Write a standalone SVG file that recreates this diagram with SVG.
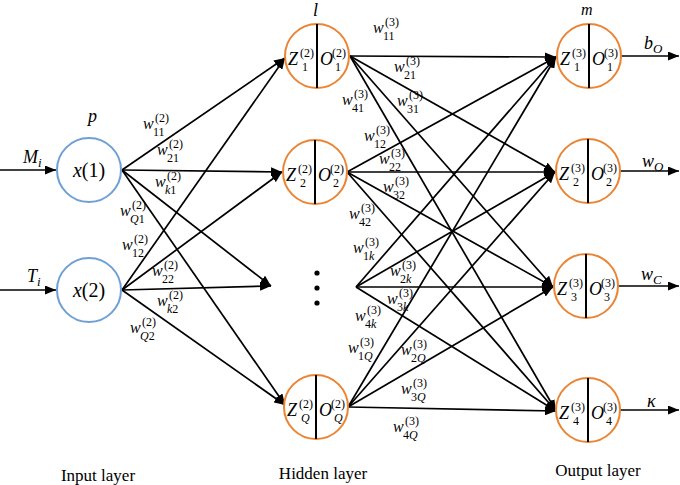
<svg xmlns="http://www.w3.org/2000/svg" width="680" height="485" viewBox="0 0 680 485">
<defs>
<marker id="ah" markerUnits="userSpaceOnUse" markerWidth="11" markerHeight="9" refX="11" refY="4.5" orient="auto">
<path d="M0,0 L11,4.5 L0,9 z" fill="#000"/>
</marker>
<style>
.in{fill:#fff;stroke:#6E9FD6;stroke-width:2}
.hid{fill:#fff;stroke:#EB8433;stroke-width:2}
.dv{stroke:#000;stroke-width:2}
.e{stroke:#000;stroke-width:1.7;fill:none;marker-end:url(#ah)}
.m{font-family:"Liberation Serif",serif;font-style:italic;fill:#000}
.w{font-size:16px}
.big{font-size:18px}
.s{font-size:12px;font-style:normal}
.i{font-style:italic}
.lab{font-family:"Liberation Serif",serif;font-size:17px;fill:#000;text-anchor:middle}
.dot{fill:#000}
</style>
</defs>

<g id="connectors">
<line class="e" x1="0" y1="170" x2="56" y2="170"/>
<line class="e" x1="0" y1="290" x2="56" y2="290"/>
<line class="e" x1="122" y1="170" x2="285" y2="58"/>
<line class="e" x1="122" y1="170" x2="282" y2="172"/>
<line class="e" x1="122" y1="170" x2="271" y2="286"/>
<line class="e" x1="122" y1="170" x2="285" y2="405"/>
<line class="e" x1="122" y1="290" x2="285" y2="58"/>
<line class="e" x1="122" y1="290" x2="282" y2="172"/>
<line class="e" x1="122" y1="290" x2="271" y2="286"/>
<line class="e" x1="122" y1="290" x2="285" y2="405"/>
<line class="e" x1="350" y1="56" x2="556" y2="57"/>
<line class="e" x1="350" y1="56" x2="555" y2="172"/>
<line class="e" x1="350" y1="56" x2="553" y2="287"/>
<line class="e" x1="350" y1="56" x2="556" y2="411"/>
<line class="e" x1="347" y1="172" x2="556" y2="57"/>
<line class="e" x1="347" y1="172" x2="555" y2="172"/>
<line class="e" x1="347" y1="172" x2="553" y2="287"/>
<line class="e" x1="347" y1="172" x2="556" y2="411"/>
<line class="e" x1="356" y1="287" x2="556" y2="57"/>
<line class="e" x1="356" y1="287" x2="555" y2="172"/>
<line class="e" x1="356" y1="287" x2="553" y2="287"/>
<line class="e" x1="356" y1="287" x2="556" y2="411"/>
<line class="e" x1="348" y1="407" x2="556" y2="57"/>
<line class="e" x1="348" y1="407" x2="555" y2="172"/>
<line class="e" x1="348" y1="407" x2="553" y2="287"/>
<line class="e" x1="348" y1="407" x2="556" y2="411"/>
<line class="e" x1="621" y1="56" x2="679" y2="56"/>
<line class="e" x1="620" y1="171" x2="679" y2="171"/>
<line class="e" x1="618" y1="286" x2="679" y2="286"/>
<line class="e" x1="620" y1="410" x2="679" y2="410"/>
</g>

<g id="input-labels">
<text class="m big" x="23" y="163">M<tspan class="i" font-size="13" y="167">i</tspan></text>
<text class="m big" x="27" y="282">T<tspan class="i" font-size="13" y="286">i</tspan></text>
<text class="m big" x="88" y="122">p</text>
<text class="m big" x="313" y="16">l</text>
<text class="m" font-size="16" x="581" y="15">m</text>
</g>

<g id="x1">
<circle class="in" cx="89" cy="170" r="32"/>
<text class="m" font-size="20" x="89" y="177" text-anchor="middle">x<tspan font-style="normal">(1)</tspan></text>
</g>
<g id="x2">
<circle class="in" cx="89" cy="290" r="32"/>
<text class="m" font-size="20" x="89" y="297" text-anchor="middle">x<tspan font-style="normal">(2)</tspan></text>
</g>

<g id="h1">
<circle class="hid" cx="317" cy="56" r="32"/>
<line class="dv" x1="317" y1="24" x2="317" y2="88"/>
<text class="m big" x="288" y="65">Z<tspan class="s" x="300" y="57">(2)</tspan><tspan class="s" x="302" y="71">1</tspan></text>
<text class="m big" x="320" y="65">O<tspan class="s" x="332" y="57">(2)</tspan><tspan class="s" x="335" y="71">1</tspan></text>
</g>
<g id="h2">
<circle class="hid" cx="315" cy="172" r="32"/>
<line class="dv" x1="315" y1="140" x2="315" y2="204"/>
<text class="m big" x="286" y="181">Z<tspan class="s" x="298" y="173">(2)</tspan><tspan class="s" x="300" y="187">2</tspan></text>
<text class="m big" x="318" y="181">O<tspan class="s" x="330" y="173">(2)</tspan><tspan class="s" x="333" y="187">2</tspan></text>
</g>
<g id="hk">
<circle class="dot" cx="317" cy="273" r="2.6"/>
<circle class="dot" cx="317" cy="288" r="2.6"/>
<circle class="dot" cx="317" cy="303" r="2.6"/>
</g>
<g id="hQ">
<circle class="hid" cx="316" cy="407" r="32"/>
<line class="dv" x1="316" y1="375" x2="316" y2="439"/>
<text class="m big" x="287" y="416">Z<tspan class="s" x="299" y="408">(2)</tspan><tspan class="s i" x="301" y="422">Q</tspan></text>
<text class="m big" x="319" y="416">O<tspan class="s" x="331" y="408">(2)</tspan><tspan class="s i" x="334" y="422">Q</tspan></text>
</g>

<g id="o1">
<circle class="hid" cx="589" cy="56" r="32"/>
<line class="dv" x1="589" y1="24" x2="589" y2="88"/>
<text class="m big" x="560" y="65">Z<tspan class="s" x="572" y="57">(3)</tspan><tspan class="s" x="574" y="71">1</tspan></text>
<text class="m big" x="592" y="65">O<tspan class="s" x="604" y="57">(3)</tspan><tspan class="s" x="607" y="71">1</tspan></text>
<text class="m big" x="644" y="49">b<tspan class="i" font-size="13" y="53">O</tspan></text>
</g>
<g id="o2">
<circle class="hid" cx="588" cy="171" r="32"/>
<line class="dv" x1="588" y1="139" x2="588" y2="203"/>
<text class="m big" x="559" y="180">Z<tspan class="s" x="571" y="172">(3)</tspan><tspan class="s" x="573" y="186">2</tspan></text>
<text class="m big" x="591" y="180">O<tspan class="s" x="603" y="172">(3)</tspan><tspan class="s" x="606" y="186">2</tspan></text>
<text class="m big" x="642" y="167">w<tspan class="i" font-size="13" y="171">O</tspan></text>
</g>
<g id="o3">
<circle class="hid" cx="586" cy="286" r="32"/>
<line class="dv" x1="586" y1="254" x2="586" y2="318"/>
<text class="m big" x="557" y="295">Z<tspan class="s" x="569" y="287">(3)</tspan><tspan class="s" x="571" y="301">3</tspan></text>
<text class="m big" x="589" y="295">O<tspan class="s" x="601" y="287">(3)</tspan><tspan class="s" x="604" y="301">3</tspan></text>
<text class="m big" x="641" y="280">w<tspan class="i" font-size="13" y="284">C</tspan></text>
</g>
<g id="o4">
<circle class="hid" cx="588" cy="410" r="32"/>
<line class="dv" x1="588" y1="378" x2="588" y2="442"/>
<text class="m big" x="559" y="419">Z<tspan class="s" x="571" y="411">(3)</tspan><tspan class="s" x="573" y="425">4</tspan></text>
<text class="m big" x="591" y="419">O<tspan class="s" x="603" y="411">(3)</tspan><tspan class="s" x="606" y="425">4</tspan></text>
<text class="m big" x="647" y="407">κ</text>
</g>

<g id="weights">
<text class="m w" x="143" y="129">w<tspan class="s" x="155" y="122">(2)</tspan><tspan class="s" x="153" y="136">11</tspan></text>
<text class="m w" x="157" y="155">w<tspan class="s" x="169" y="148">(2)</tspan><tspan class="s" x="167" y="162">21</tspan></text>
<text class="m w" x="155" y="187">w<tspan class="s" x="167" y="180">(2)</tspan><tspan class="s" x="165" y="194"><tspan class="i">k</tspan>1</tspan></text>
<text class="m w" x="120" y="216">w<tspan class="s" x="132" y="209">(2)</tspan><tspan class="s" x="130" y="223"><tspan class="i">Q</tspan>1</tspan></text>
<text class="m w" x="122" y="250">w<tspan class="s" x="134" y="243">(2)</tspan><tspan class="s" x="132" y="257">12</tspan></text>
<text class="m w" x="152" y="276">w<tspan class="s" x="164" y="269">(2)</tspan><tspan class="s" x="162" y="283">22</tspan></text>
<text class="m w" x="157" y="306">w<tspan class="s" x="169" y="299">(2)</tspan><tspan class="s" x="167" y="313"><tspan class="i">k</tspan>2</tspan></text>
<text class="m w" x="130" y="333">w<tspan class="s" x="142" y="326">(2)</tspan><tspan class="s" x="140" y="340"><tspan class="i">Q</tspan>2</tspan></text>

<text class="m w" x="373" y="33">w<tspan class="s" x="385" y="26">(3)</tspan><tspan class="s" x="383" y="40">11</tspan></text>
<text class="m w" x="394" y="72">w<tspan class="s" x="406" y="65">(3)</tspan><tspan class="s" x="404" y="79">21</tspan></text>
<text class="m w" x="397" y="106">w<tspan class="s" x="409" y="99">(3)</tspan><tspan class="s" x="407" y="113">31</tspan></text>
<text class="m w" x="342" y="105">w<tspan class="s" x="354" y="98">(3)</tspan><tspan class="s" x="352" y="112">41</tspan></text>
<text class="m w" x="364" y="141">w<tspan class="s" x="376" y="134">(3)</tspan><tspan class="s" x="374" y="148">12</tspan></text>
<text class="m w" x="379" y="164">w<tspan class="s" x="391" y="157">(3)</tspan><tspan class="s" x="389" y="171">22</tspan></text>
<text class="m w" x="383" y="192">w<tspan class="s" x="395" y="185">(3)</tspan><tspan class="s" x="393" y="199">32</tspan></text>
<text class="m w" x="349" y="219">w<tspan class="s" x="361" y="212">(3)</tspan><tspan class="s" x="359" y="226">42</tspan></text>
<text class="m w" x="353" y="253">w<tspan class="s" x="365" y="246">(3)</tspan><tspan class="s" x="363" y="260">1<tspan class="i">k</tspan></tspan></text>
<text class="m w" x="390" y="276">w<tspan class="s" x="402" y="269">(3)</tspan><tspan class="s" x="400" y="283">2<tspan class="i">k</tspan></tspan></text>
<text class="m w" x="387" y="304">w<tspan class="s" x="399" y="297">(3)</tspan><tspan class="s" x="397" y="311">3<tspan class="i">k</tspan></tspan></text>
<text class="m w" x="355" y="321">w<tspan class="s" x="367" y="314">(3)</tspan><tspan class="s" x="365" y="328">4<tspan class="i">k</tspan></tspan></text>
<text class="m w" x="348" y="353">w<tspan class="s" x="360" y="346">(3)</tspan><tspan class="s" x="358" y="360">1<tspan class="i">Q</tspan></tspan></text>
<text class="m w" x="401" y="355">w<tspan class="s" x="413" y="348">(3)</tspan><tspan class="s" x="411" y="362">2<tspan class="i">Q</tspan></tspan></text>
<text class="m w" x="401" y="394">w<tspan class="s" x="413" y="387">(3)</tspan><tspan class="s" x="411" y="401">3<tspan class="i">Q</tspan></tspan></text>
<text class="m w" x="393" y="432">w<tspan class="s" x="405" y="425">(3)</tspan><tspan class="s" x="403" y="439">4<tspan class="i">Q</tspan></tspan></text>
</g>

<g id="layer-labels">
<text class="lab" x="98" y="481">Input layer</text>
<text class="lab" x="323" y="479">Hidden layer</text>
<text class="lab" x="598" y="476">Output layer</text>
</g>
</svg>
